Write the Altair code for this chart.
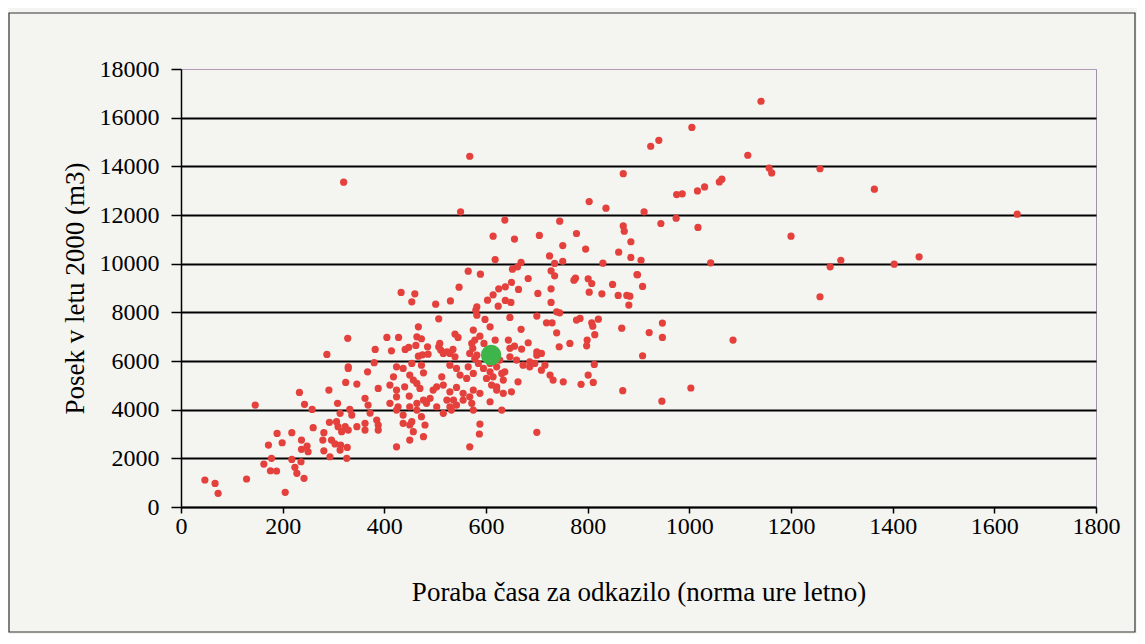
import altair as alt
import pandas as pd

# Poraba časa za odkazilo (norma ure letno)
x_vals = [
    1141, 1005, 940, 924, 1115, 568, 870, 320, 1157, 1162, 1257, 1364, 975, 986, 1016, 1030, 1059, 1064,
    911, 944, 974, 1017, 1200, 885, 885, 905, 1042, 1298, 1277, 898, 908, 1257, 883, 881, 1403, 1452, 1645,
    803, 836, 550, 637, 745, 614, 656, 705, 778, 870, 872, 751, 796, 861, 725, 618, 751, 735, 830, 669,
    662, 652, 565, 589, 728, 735, 683, 776, 773, 801, 808, 849, 897, 803, 828, 860, 877, 547, 650, 638,
    625, 614, 603, 664, 702, 728, 728, 638, 649, 624, 582, 433, 460, 454, 501, 530,
    821, 808, 810, 867, 921, 947, 947, 1086, 814, 799, 798, 908, 813, 801, 811, 787, 869, 1003, 946, 785,
    507, 467, 328, 405, 428, 464, 473, 382, 414, 441, 448, 462, 485, 507, 511, 287, 380, 329, 467, 475,
    486, 516,
    580, 582, 598, 608, 647, 669, 700, 719, 730, 739, 778, 539, 545, 575, 578, 588, 596, 618, 644, 656,
    647, 670, 683, 700, 709, 744, 765, 509, 523, 535, 574, 582, 686, 700, 739, 745,
    424, 437, 418, 454, 473, 477, 513, 529, 542, 549, 562, 565, 575, 585, 601, 608, 621, 631, 634, 611,
    621, 634, 650, 663, 673, 686, 696, 709, 716, 726, 732, 752, 608, 631, 588, 587, 568, 700, 424, 440,
    470, 496, 516, 529, 542, 555, 568, 575, 523, 503, 516, 532, 424, 437, 457, 477, 480, 450, 424, 450,
    437, 464, 477, 542, 555,
    146, 233, 243, 258, 291, 329, 324, 346, 367, 308, 313, 332, 336, 292, 306, 309, 323, 316, 329, 346,
    362, 362, 385, 388, 388, 260, 281, 296, 303, 314, 327, 313, 293, 326, 281, 237, 248, 237, 250, 218,
    189, 199, 172, 178, 163, 218, 236, 176, 188, 224, 228, 242, 205, 129, 47, 67, 73, 279, 388, 362,
    368, 372,
    411, 424, 411, 427, 449, 457, 464, 483, 450, 464, 473, 503, 536, 572, 575, 588, 529, 454,
    572, 627, 637, 608, 614, 621, 578, 568, 647, 660, 595, 450, 490, 529, 539,
]

# Posek v letu 2000 (m3)
y_vals = [
    16675, 15600, 15070, 14825, 14455, 14415, 13700, 13350, 13930, 13730, 13900, 13060, 12840, 12870, 12990, 13155, 13360, 13470,
    12130, 11650, 11870, 11490, 11130, 10900, 10255, 10140, 10035, 10140, 9870, 9540, 9065, 8640, 8665, 8300, 9980, 10280, 12033,
    12550, 12280, 12130, 11790, 11745, 11130, 11010, 11160, 11240, 11550, 11335, 10745, 10600, 10470, 10320, 10170, 10100, 10010, 10020, 10050,
    9870, 9775, 9690, 9570, 9705, 9500, 9390, 9405, 9320, 9380, 9185, 9145, 9555, 8830, 8760, 8695, 8695, 9035, 9230, 9050,
    8965, 8720, 8500, 8940, 8775, 8965, 8405, 8490, 8405, 8255, 8225, 8820, 8760, 8430, 8335, 8470,
    7720, 7570, 7430, 7350, 7170, 7560, 6970, 6860, 7080, 6860, 6625, 6215, 5860, 5420, 5120, 5040, 4780, 4890, 4350, 7750,
    7735, 7405, 6930, 6970, 6970, 6995, 6915, 6475, 6420, 6475, 6560, 6640, 6585, 6585, 6450, 6270, 5930, 5760, 6200, 6255,
    6280, 6310,
    8090, 7885, 7710, 7405, 7790, 7300, 7845, 7570, 7570, 7160, 7680, 7105, 6970, 7270, 6860, 7020, 6720, 6860, 6860, 6610,
    6520, 6490, 6750, 6380, 6310, 6585, 6720, 6720, 6380, 6475, 6520, 6240, 5965, 6240, 8020, 7980,
    5760, 5695, 5350, 5900, 5830, 5515, 5350, 5830, 5695, 5420, 5285, 5760, 5490, 5900, 5285, 5555, 5760, 5490, 5215, 5010,
    4805, 4670, 4735, 5145, 5830, 5760, 5900, 5625, 5830, 5420, 5215, 5145, 4325, 3985, 3410, 3000, 2475, 3070, 4805, 4940,
    4875, 4805, 5010, 4735, 4915, 4670, 4530, 4805, 4395, 4120, 3850, 3985, 3985, 3780, 3095, 2890, 3370, 2750, 2475, 3370,
    3440, 4260, 4395, 4190, 4395,
    4190, 4710, 4220, 4010, 4805, 5695, 5120, 5050, 5555, 4260, 3850, 4010, 3780, 3480, 3505, 3300, 3300, 3095, 3160, 3300,
    3440, 3160, 3575, 3370, 3160, 3260, 3055, 2750, 2590, 2545, 2450, 2340, 2065, 2000, 2310, 2750, 2505, 2370, 2270, 3055,
    3025, 2640, 2545, 2000, 1765, 1955, 1860, 1490, 1480, 1630, 1385, 1180, 605, 1150, 1110, 970, 560, 2750, 4875, 4465,
    4190, 3860,
    5010, 4530, 4260, 4120, 4560, 5215, 5080, 4260, 4120, 3985, 3710, 4940, 4395, 4260, 3985, 4670, 4120, 3505,
    6720, 6040, 5555, 5900, 5350, 4940, 6100, 6310, 6170, 6040, 5695, 5420, 4465, 6310, 6170,
]

# highlighted (average) point
green_x = [610]
green_y = [6250]

x_ticks = [0, 200, 400, 600, 800, 1000, 1200, 1400, 1600, 1800]
y_ticks = [0, 2000, 4000, 6000, 8000, 10000, 12000, 14000, 16000, 18000]

df = pd.DataFrame({"x": x_vals, "y": y_vals})
gdf = pd.DataFrame({"x": green_x, "y": green_y})

FONT = "Liberation Serif"

xscale = alt.Scale(domain=[0, 1800], nice=False, zero=False)
yscale = alt.Scale(domain=[0, 18000], nice=False, zero=False)

xaxis = alt.Axis(
    values=x_ticks, format="d", grid=False, domainColor="black", domainWidth=1.5,
    tickColor="black", tickSize=6, tickWidth=1.5,
    labelFont=FONT, labelFontSize=24, labelColor="black", labelPadding=1,
    labelFlush=False, labelOverlap=False,
    title="Poraba časa za odkazilo (norma ure letno)",
    titleFont=FONT, titleFontSize=27, titleFontWeight="normal", titleColor="black",
    titlePadding=41,
)
yaxis = alt.Axis(
    values=y_ticks, format="d", grid=True,
    gridColor={"condition": {"test": "datum.value >= 18000", "value": "#b09ab8"}, "value": "black"},
    gridWidth={"condition": {"test": "datum.value >= 18000", "value": 1}, "value": 2},
    domainColor="black", domainWidth=1.5,
    tickColor="black", tickSize=10, tickWidth=1.5,
    labelFont=FONT, labelFontSize=24, labelColor="black", labelPadding=12,
    labelFlush=False, labelOverlap=False,
    title="Posek v letu 2000 (m3)",
    titleFont=FONT, titleFontSize=27, titleFontWeight="normal", titleColor="black",
    titlePadding=10,
)

points = alt.Chart(df).mark_circle(size=52, color="#e4403c", opacity=1).encode(
    x=alt.X("x:Q", scale=xscale, axis=xaxis),
    y=alt.Y("y:Q", scale=yscale, axis=yaxis),
)

green = alt.Chart(gdf).mark_circle(size=420, color="#3db54a", opacity=1).encode(
    x=alt.X("x:Q", scale=xscale),
    y=alt.Y("y:Q", scale=yscale),
)

frame = alt.Chart(pd.DataFrame({"a": [0]})).mark_rect(
    filled=False, stroke="#333333", strokeWidth=1.2, fill=None
).encode(
    x=alt.value(-172), x2=alt.value(954), y=alt.value(-56), y2=alt.value(563)
)

chart = (
    alt.layer(frame, points, green)
    .properties(
        width=915, height=438,
        autosize=alt.AutoSizeParams(type="none"),
        padding={"left": 173, "top": 61, "right": 41, "bottom": 127},
        background="#f4f4f1",
    )
    .configure_view(stroke="#a090a8", strokeWidth=1)
)

chart.save("out.html", embed_options={"renderer": "svg", "actions": False})
